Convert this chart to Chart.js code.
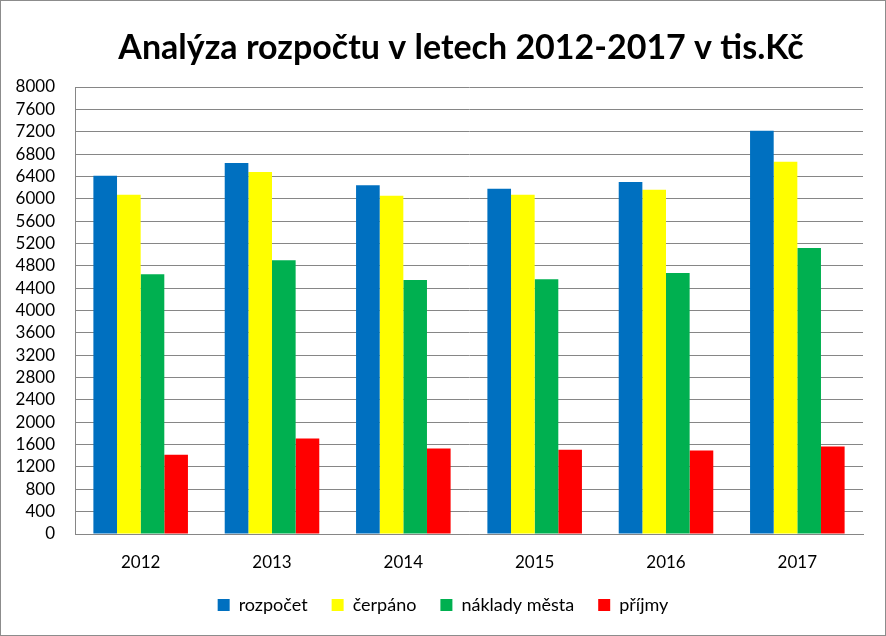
<!DOCTYPE html>
<html><head><meta charset="utf-8">
<script src="https://cdn.jsdelivr.net/npm/chart.js@4/dist/chart.umd.min.js"></script>
<style>html,body{margin:0;padding:0;background:#fff}#wrap{width:886px;height:636px;position:relative}</style>
</head><body><div id="wrap"><canvas id="c" width="886" height="636"></canvas></div>
<script>
const categories = ["2012","2013","2014","2015","2016","2017"];
const rozpocet = [6410, 6640, 6240, 6180, 6300, 7215];
const cerpano  = [6070, 6480, 6055, 6070, 6160, 6660];
const naklady  = [4650, 4900, 4545, 4560, 4670, 5120];
const prijmy   = [1420, 1710, 1530, 1510, 1495, 1565];
const seriesNames = ["rozpočet","čerpáno","náklady města","příjmy"];
const colors = ["#0070C0","#FFFF00","#00B050","#FF0000"];
const titleText = "Analýza rozpočtu v letech 2012-2017 v tis.Kč";

const FONT = "Lato, 'Open Sans', sans-serif";
const frame = {id:'frame', afterDraw(ch){const c=ch.ctx;c.save();
  c.fillStyle='#000';c.font="bold 34px "+FONT;c.textAlign='center';c.textBaseline='alphabetic';
  c.fillText(titleText,461,59);
  c.strokeStyle='#8c8c8c';c.lineWidth=1;c.strokeRect(0.5,0.5,ch.width-1,ch.height-1);c.restore();}};
new Chart(document.getElementById('c'), {
  type:'bar',
  data:{labels:categories, datasets:[rozpocet,cerpano,naklady,prijmy].map((d,i)=>({label:seriesNames[i],data:d,backgroundColor:colors[i],borderWidth:0}))},
  options:{
    responsive:false, animation:false, devicePixelRatio:1,
    layout:{padding:{left:0,right:0,top:87,bottom:12}},
    datasets:{bar:{categoryPercentage:0.72,barPercentage:1}},
    plugins:{
      title:{display:false},
      legend:{position:'bottom',labels:{boxWidth:12,boxHeight:12,color:'#000',font:{family:FONT,size:18},padding:24}},
      tooltip:{enabled:false}
    },
    scales:{
      x:{grid:{display:false,drawTicks:false},border:{color:'#868686'},ticks:{color:'#000',font:{family:FONT,size:17},padding:18},
         afterFit(s){s.height=38;}},
      y:{min:0,max:8000,ticks:{stepSize:400,autoSkip:false,color:'#000',font:{family:FONT,size:17},padding:20,callback:v=>String(v)},
         grid:{color:'#868686',drawTicks:false},border:{color:'#868686'},
         afterFit(s){s.width=75;}},
      yR:{position:'right',display:true,min:0,max:8000,grid:{display:false,drawTicks:false},border:{display:false},ticks:{display:false},
         afterFit(s){s.width=23;}}
    }
  },
  plugins:[frame]
});
</script></body></html>
